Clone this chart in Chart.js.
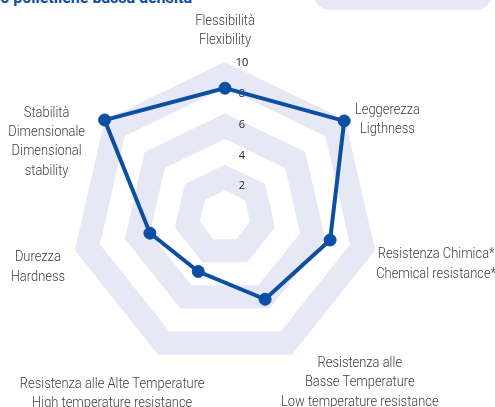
<!DOCTYPE html>
<html>
<head>
<meta charset="utf-8">
<script src="https://cdn.jsdelivr.net/npm/chart.js@4.4.1/dist/chart.umd.min.js"></script>
<style>
    body { margin: 0; overflow: hidden; background: #fff; }
    #wrap { position: relative; width: 495px; height: 407px; overflow: hidden; }
    #title {
        position: absolute; right: 303px; top: -10px;
        font: bold 16px Roboto, sans-serif; line-height: 16px;
        color: #0B4EA2; white-space: nowrap;
    }
    #badge {
        position: absolute; left: 314px; top: -30px; width: 178px; height: 40px;
        border-radius: 16px; background: #E6E8F5;
    }
    #box { position: absolute; left: 0; top: 0; width: 495px; height: 407px; }
</style>
</head>
<body>
<div id="wrap">
    <div id="title">Espanso polietilene bassa densità</div>
    <div id="badge"></div>
    <div id="box"><canvas id="radar"></canvas></div>
</div>
<script>
// Radar - proprietà del materiale
const categories = [
    ['Flessibilità', 'Flexibility'],
    ['Leggerezza', 'Ligthness'],
    ['Resistenza Chimica*', 'Chemical resistance*'],
    ['Resistenza alle', 'Basse Temperature', 'Low temperature resistance'],
    ['Resistenza alle Alte Temperature', 'High temperature resistance'],
    ['Durezza', 'Hardness'],
    ['Stabilità', 'Dimensionale', 'Dimensional', 'stability']
];
const values = [8.3, 9.9, 7, 6, 4, 5, 10];
const tickValues = [2, 4, 6, 8, 10];
const bandRanges = [[1.67, 3.33], [5, 6.67], [8.33, 10]];

const BLUE = '#0B4EA2';
const BAND = '#E6E8F5';

// label block centre, relative to the outer vertex of each axis
const labelNudge = [[0, -31], [42, 0], [61, 14], [68, 28], [-46, 39], [-37, 17], [-58, 22]];
const CONDENSE = 0.86; // the original uses a condensed face

const bandsPlugin = {
    id: 'bands',
    beforeDatasetsDraw(chart) {
        const scale = chart.scales.r;
        const ctx = chart.ctx;
        const n = chart.data.labels.length;
        ctx.save();
        ctx.fillStyle = BAND;
        bandRanges.forEach(([a, b]) => {
            const rIn = scale.getDistanceFromCenterForValue(a);
            const rOut = scale.getDistanceFromCenterForValue(b);
            ctx.beginPath();
            for (let i = 0; i < n; i++) {
                const p = scale.getPointPosition(i, rOut);
                i === 0 ? ctx.moveTo(p.x, p.y) : ctx.lineTo(p.x, p.y);
            }
            ctx.closePath();
            for (let i = 0; i < n; i++) {
                const p = scale.getPointPosition(i, rIn);
                i === 0 ? ctx.moveTo(p.x, p.y) : ctx.lineTo(p.x, p.y);
            }
            ctx.closePath();
            ctx.fill('evenodd');
        });

        // tick labels, a little right of the axis
        ctx.fillStyle = '#222';
        ctx.font = '11px "Open Sans", sans-serif';
        ctx.textAlign = 'center';
        ctx.textBaseline = 'middle';
        tickValues.forEach(v => {
            const d = scale.getDistanceFromCenterForValue(v);
            ctx.fillText(String(v), scale.xCenter + 17, scale.yCenter - d + 1);
        });

        // axis labels, lines centred
        ctx.fillStyle = '#404040';
        ctx.font = '300 15px Roboto, sans-serif';
        const lh = 19.4;
        categories.forEach((lines, i) => {
            const p = scale.getPointPosition(i, scale.drawingArea);
            const cx = p.x + labelNudge[i][0];
            const cy = p.y + labelNudge[i][1];
            const top = cy - (lines.length - 1) * lh / 2;
            lines.forEach((t, k) => {
                ctx.save();
                ctx.translate(cx, top + k * lh);
                ctx.scale(CONDENSE, 1);
                ctx.fillText(t, 0, 0);
                ctx.restore();
            });
        });
        ctx.restore();
    }
};

new Chart(document.getElementById('radar'), {
    type: 'radar',
    data: {
        labels: categories,
        datasets: [{
            data: values,
            borderColor: BLUE,
            backgroundColor: BLUE,
            borderWidth: 4,
            pointRadius: 6,
            pointBorderWidth: 1,
            pointBackgroundColor: BLUE,
            pointBorderColor: BLUE,
            fill: false,
            tension: 0
        }]
    },
    options: {
        responsive: true,
        maintainAspectRatio: false,
        animation: false,
        layout: { padding: { left: 71, right: 116, top: 62, bottom: 37 } },
        plugins: { legend: { display: false }, tooltip: { enabled: false } },
        scales: {
            r: {
                min: 0,
                max: 10,
                ticks: { display: false, stepSize: 2 },
                grid: { display: false },
                angleLines: { display: false },
                pointLabels: { display: false }
            }
        }
    },
    plugins: [bandsPlugin]
});
</script>
</body>
</html>
